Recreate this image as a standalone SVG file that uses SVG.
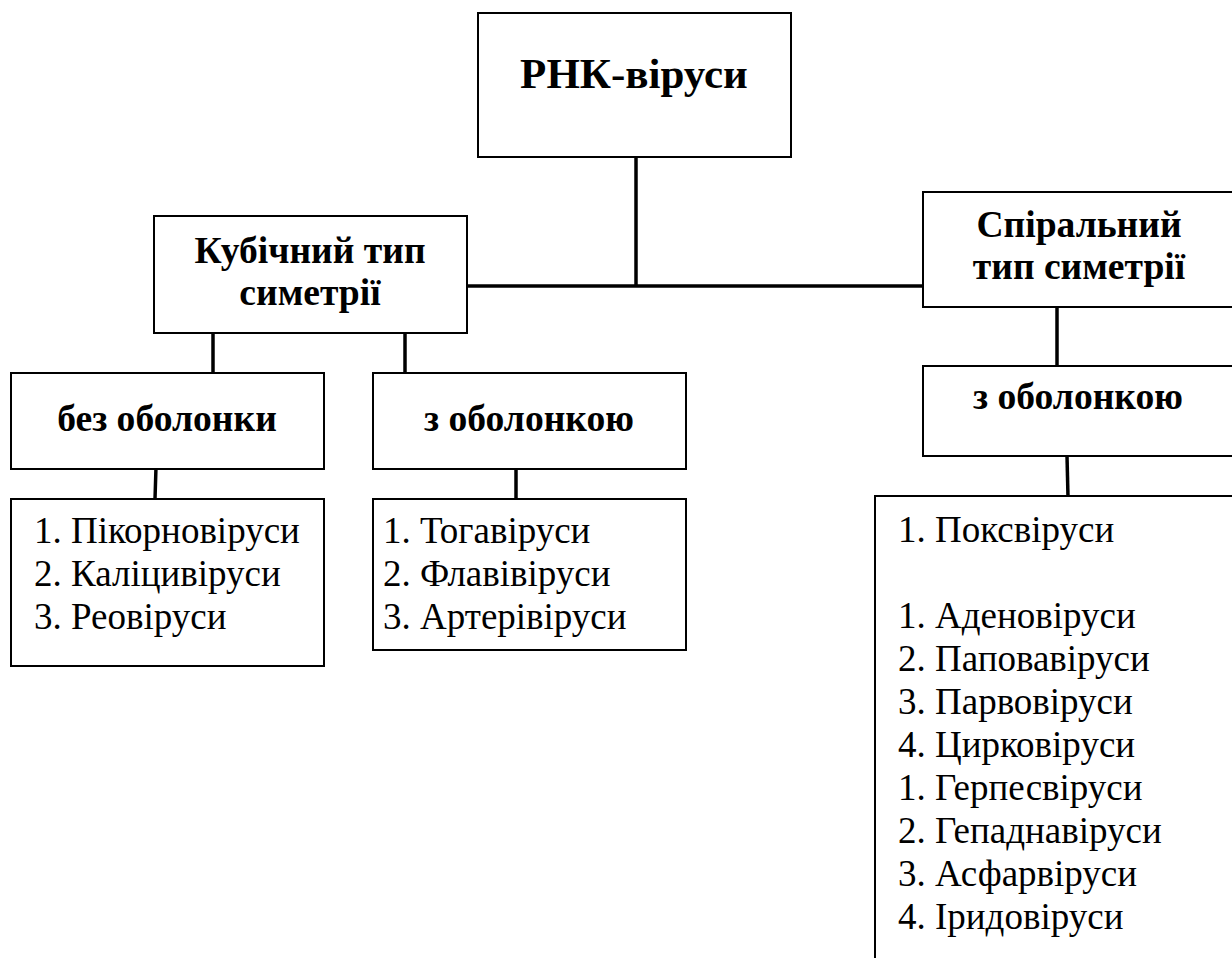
<svg xmlns="http://www.w3.org/2000/svg" width="1232" height="958" viewBox="0 0 1232 958">
<style>
.box{fill:#fff;stroke:#000;stroke-width:2}
.hd{font-family:'Liberation Serif','DejaVu Serif',serif;font-weight:bold;fill:#000;text-anchor:middle;font-size:37.6px}
.ls{font-family:'Liberation Serif','DejaVu Serif',serif;font-size:37px;fill:#000}
.cn{stroke:#000;stroke-width:3.5;fill:none}
</style>
<rect width="1232" height="958" fill="#fff"/>
<g id="connectors">
<line class="cn" x1="636" y1="157" x2="636" y2="285"/>
<line class="cn" x1="467" y1="286" x2="923" y2="286" stroke-width="4"/>
<line class="cn" x1="213" y1="333" x2="213" y2="373"/>
<line class="cn" x1="405" y1="333" x2="405" y2="373"/>
<line class="cn" x1="156" y1="467" x2="155" y2="499"/>
<line class="cn" x1="516" y1="469" x2="516" y2="499"/>
<line class="cn" x1="1057" y1="307" x2="1057" y2="366"/>
<line class="cn" x1="1067" y1="456" x2="1068" y2="497"/>
</g>
<g id="root">
<rect class="box" x="478" y="13" width="313" height="144"/>
<text class="hd" x="634" y="88" style="font-size:43px">РНК-віруси</text>
</g>
<g id="cubic">
<rect class="box" x="154" y="216" width="313" height="117"/>
<text class="hd" x="310" y="263">Кубічний тип</text>
<text class="hd" x="310" y="305">симетрії</text>
</g>
<g id="spiral">
<rect class="box" x="923" y="192" width="320" height="115"/>
<text class="hd" x="1079" y="237">Спіральний</text>
<text class="hd" x="1079" y="279">тип симетрії</text>
</g>
<g id="no-envelope">
<rect class="box" x="11" y="373" width="313" height="96"/>
<text class="hd" x="167" y="431">без оболонки</text>
</g>
<g id="envelope-left">
<rect class="box" x="373" y="373" width="313" height="96"/>
<text class="hd" x="529" y="431">з оболонкою</text>
</g>
<g id="envelope-right">
<rect class="box" x="923" y="366" width="320" height="90"/>
<text class="hd" x="1078" y="409">з оболонкою</text>
</g>
<g id="list-left">
<rect class="box" x="11" y="499" width="313" height="167"/>
<text class="ls" x="34" y="543">1. Пікорновіруси</text>
<text class="ls" x="34" y="586">2. Каліцивіруси</text>
<text class="ls" x="34" y="629">3. Реовіруси</text>
</g>
<g id="list-middle">
<rect class="box" x="373" y="499" width="313" height="151"/>
<text class="ls" x="383" y="543">1. Тогавіруси</text>
<text class="ls" x="383" y="586">2. Флавівіруси</text>
<text class="ls" x="383" y="629">3. Артерівіруси</text>
</g>
<g id="list-right">
<rect class="box" x="875" y="496" width="370" height="480"/>
<text class="ls" x="898" y="542">1. Поксвіруси</text>
<text class="ls" x="898" y="628">1. Аденовіруси</text>
<text class="ls" x="898" y="671">2. Паповавіруси</text>
<text class="ls" x="898" y="714">3. Парвовіруси</text>
<text class="ls" x="898" y="757">4. Цирковіруси</text>
<text class="ls" x="898" y="800">1. Герпесвіруси</text>
<text class="ls" x="898" y="843">2. Гепаднавіруси</text>
<text class="ls" x="898" y="886">3. Асфарвіруси</text>
<text class="ls" x="898" y="929">4. Іридовіруси</text>
</g>
</svg>
